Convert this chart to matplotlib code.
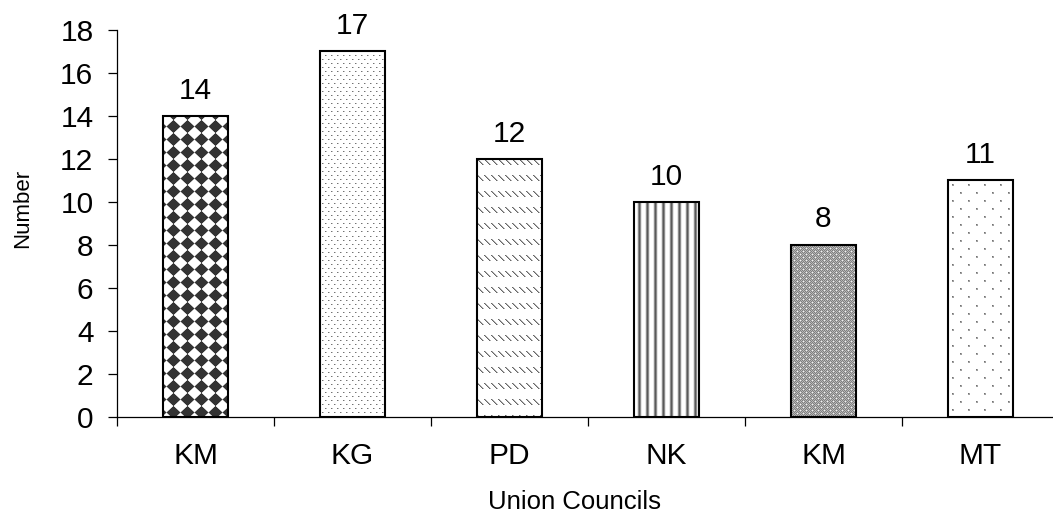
import numpy as np
import matplotlib
matplotlib.use("Agg")
import matplotlib.pyplot as plt

# Data
councils = ["KM", "KG", "PD", "NK", "KM", "MT"]
counts = [14, 17, 12, 10, 8, 11]
y_ticks = [0, 2, 4, 6, 8, 10, 12, 14, 16, 18]

plt.rcParams["font.family"] = ["Liberation Sans", "DejaVu Sans"]

W_PX, H_PX, DPI = 1053, 518, 100
fig = plt.figure(figsize=(W_PX / DPI, H_PX / DPI), dpi=DPI)
fig.patch.set_facecolor("white")

# axes box in pixels (the x axis runs slightly past the right edge)
left, right, top, bottom = 117, 1059, 30, 416.7
ax = fig.add_axes([left / W_PX, (H_PX - bottom) / H_PX,
                   (right - left) / W_PX, (bottom - top) / H_PX])

n = len(councils)
xpos = np.arange(n)
bar_w = 0.414
ax.set_xlim(-0.5, n - 0.5)
ax.set_ylim(0, 18)


# ---- fill textures (functions of pixel coordinates) ----
def tex_diamonds(h, w):
    yy, xx = np.mgrid[0:h, 0:w].astype(float)
    P, Q = 14.0, 13.0
    dx = ((xx + 4 + P / 2) % P) - P / 2
    dy = ((yy + 3 + Q / 2) % Q) - Q / 2
    d = np.abs(dx) / P + np.abs(dy) / Q
    t = np.clip((d - 0.5) / 0.09 + 0.5, 0, 1)
    return 0.2 + 0.8 * t


def tex_fine_dots(h, w):
    yy, xx = np.mgrid[0:h, 0:w]
    g = np.ones((h, w))
    row = yy // 4
    on_row = (yy % 4) == 0
    shift = np.where(row % 2 == 0, 0, 3)
    g[on_row & (((xx - shift) % 6) == 2)] = 0.45
    g[on_row & (((xx - shift) % 6) == 3)] = 0.75
    return g


def tex_dashes(h, w):
    yy, xx = np.mgrid[0:h, 0:w]
    g = np.ones((h, w))
    band = (yy % 16) < 6
    k = (xx - (yy % 16)) % 7
    g[band & (k == 0)] = 0.4
    g[band & (k == 1)] = 0.7
    return g


def tex_vlines(h, w):
    yy, xx = np.mgrid[0:h, 0:w]
    prof = np.array([0.35, 0.55, 0.9, 1, 1, 1, 0.9, 0.55])
    return prof[(xx + 3) % 8]


def tex_checker(h, w):
    yy, xx = np.mgrid[0:h, 0:w]
    g = np.where((xx + yy) % 2 == 0, 0.5, 0.72)
    white = (((xx % 6) == 0) & ((yy % 6) == 0)) | (((xx % 6) == 3) & ((yy % 6) == 3))
    g[white] = 0.95
    return g


def tex_sparse_dots(h, w):
    yy, xx = np.mgrid[0:h, 0:w]
    g = np.ones((h, w))
    row = yy // 8
    shift = np.where(row % 2 == 0, 4, 12)
    r = yy % 8
    c = (xx - shift) % 16
    g[((r == 4) | (r == 5)) & ((c == 0) | (c == 1))] = 0.62
    g[(r == 4) & (c == 0)] = 0.45
    return g


textures = [tex_diamonds, tex_fine_dots, tex_dashes, tex_vlines,
            tex_checker, tex_sparse_dots]

bars = ax.bar(xpos, counts, width=bar_w, facecolor="none",
              edgecolor="black", linewidth=1.5, zorder=3)

for rect, x, v, tex in zip(bars, xpos, counts, textures):
    x0, x1 = x - bar_w / 2, x + bar_w / 2
    (px0, py0) = ax.transData.transform((x0, 0))
    (px1, py1) = ax.transData.transform((x1, v))
    tw, th = int(round(px1 - px0)), int(round(py1 - py0))
    g = tex(th, tw)
    rgb = np.dstack([g, g, g])
    im = ax.imshow(rgb, extent=(x0, x1, 0, v), aspect="auto",
                   interpolation="nearest", zorder=2)
    im.set_clip_path(rect)
    ax.annotate(str(v), (x, v), xytext=(0, 12.5), textcoords="offset points",
                ha="center", va="baseline", fontsize=21.5, color="black")

ax.set_xlim(-0.5, n - 0.5)
ax.set_ylim(0, 18)

# axes styling
for s in ("top", "right"):
    ax.spines[s].set_visible(False)
for s in ("left", "bottom"):
    ax.spines[s].set_linewidth(0.9)
    ax.spines[s].set_color("black")

ax.set_yticks(y_ticks)
ax.set_yticklabels([str(t) for t in y_ticks])
ax.tick_params(axis="y", direction="out", length=6.5, width=0.9, pad=10.5,
               labelsize=21.5)

ax.set_xticks(xpos)
ax.set_xticklabels(councils)
ax.tick_params(axis="x", which="major", length=0, pad=18.5, labelsize=21.5)
ax.set_xticks(np.arange(n + 1) - 0.5, minor=True)
ax.tick_params(axis="x", which="minor", direction="out", length=6.5, width=0.9)

fig.text(23 / W_PX, (H_PX - 208) / H_PX, "Number", rotation=90,
         ha="center", va="center", fontsize=16)
fig.text(574 / W_PX, (H_PX - 509) / H_PX, "Union Councils",
         ha="center", va="baseline", fontsize=18.5)

fig.savefig("out.png", dpi=DPI)
